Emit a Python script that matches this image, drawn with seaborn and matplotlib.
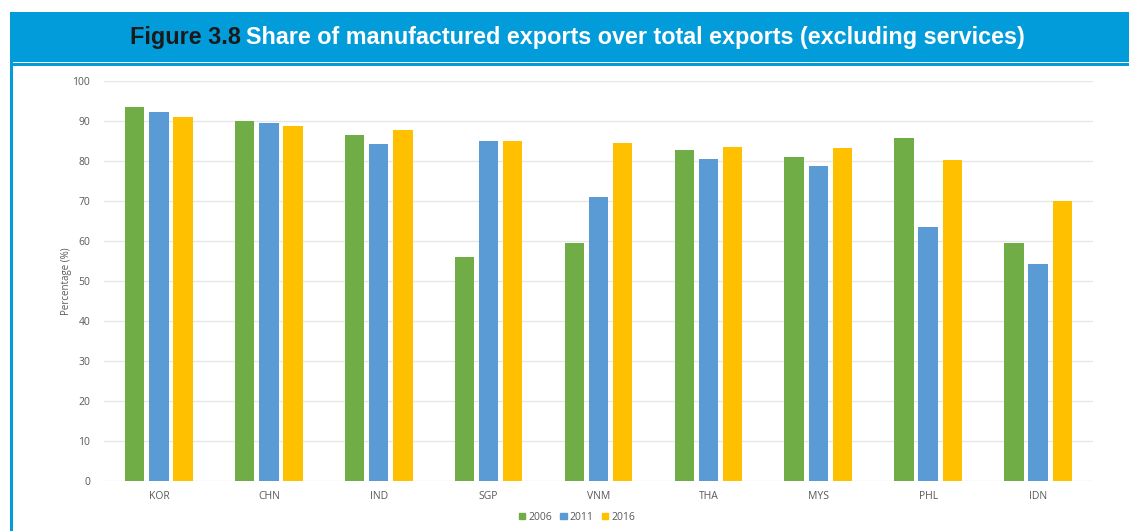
import matplotlib
matplotlib.use("Agg")
import matplotlib.pyplot as plt
import matplotlib.patches as mpatches
import seaborn as sns
import pandas as pd

# Economies and share of manufactured exports (%) by year
countries = ["KOR", "CHN", "IND", "SGP", "VNM", "THA", "MYS", "PHL", "IDN"]
years = ["2006", "2011", "2016"]
share_2006 = [93.4, 90.0, 86.5, 55.9, 59.4, 82.8, 80.9, 85.8, 59.5]
share_2011 = [92.3, 89.6, 84.2, 85.0, 70.9, 80.5, 78.8, 63.6, 54.3]
share_2016 = [91.0, 88.8, 87.7, 84.9, 84.4, 83.6, 83.3, 80.3, 70.0]
yticks = [0, 10, 20, 30, 40, 50, 60, 70, 80, 90, 100]

colors = {"2006": "#70AD47", "2011": "#5B9BD5", "2016": "#FFC000"}
band_blue = "#039CDB"
tick_grey = "#595959"

df = pd.DataFrame({
    "country": countries * 3,
    "year": [y for y, vals in zip(years, [share_2006, share_2011, share_2016]) for _ in vals],
    "share": share_2006 + share_2011 + share_2016,
})

sns.set_theme(style="white")
plt.rcParams["font.family"] = ["Open Sans", "DejaVu Sans"]

fig = plt.figure(figsize=(11.29, 5.31), dpi=100)
fig.patch.set_facecolor("white")

# Header band and frame
W, H = 1129, 531
def fx(px):
    return px / W
def fy(py):
    return 1 - py / H

fig.patches.append(mpatches.Rectangle((fx(10), fy(62)), 1 - fx(10), (62 - 12) / H,
                                      transform=fig.transFigure, facecolor=band_blue,
                                      edgecolor="none", zorder=0))
fig.patches.append(mpatches.Rectangle((fx(10), fy(66)), 1 - fx(10), 3 / H,
                                      transform=fig.transFigure, facecolor=band_blue,
                                      edgecolor="none", zorder=0))
fig.patches.append(mpatches.Rectangle((fx(10), 0), 3 / W, fy(62),
                                      transform=fig.transFigure, facecolor=band_blue,
                                      edgecolor="none", zorder=0))

ax = fig.add_axes([fx(104), fy(481), fx(1093) - fx(104), (481 - 81) / H])
sns.barplot(data=df, x="country", y="share", hue="year", hue_order=years,
            palette=colors, width=0.66, gap=0.2, ax=ax, legend=False,
            saturation=1, edgecolor="none")

ax.set_ylim(0, 100)
ax.set_xlim(-0.5, len(countries) - 0.5)
ax.set_yticks(yticks)
ax.yaxis.grid(True, color="#E6E6E6", linewidth=1)
ax.set_axisbelow(True)
for s in ax.spines.values():
    s.set_visible(False)
ax.tick_params(axis="both", length=0, labelsize=7.5, labelcolor=tick_grey)
ax.tick_params(axis="x", pad=7)
ax.tick_params(axis="y", pad=10)
ax.set_xlabel("")
ax.set_ylabel("Percentage (%)", fontsize=7, color=tick_grey, labelpad=0)

handles = [mpatches.Patch(color=colors[y], label=y) for y in years]
fig.legend(handles=handles, loc="center", bbox_to_anchor=(fx(577), fy(517)), ncol=3,
           frameon=False, fontsize=7.5, handlelength=0.6, handleheight=0.6,
           handletextpad=0.3, columnspacing=0.8, labelcolor=tick_grey)

# Title: dark figure number followed by white caption
title_font = ["Liberation Sans", "DejaVu Sans"]
t1 = fig.text(fx(130), fy(37), "Figure 3.8", fontsize=16.8, fontweight="bold",
              color="#1A1A1A", va="center", ha="left", family=title_font)
fig.canvas.draw()
bb = t1.get_window_extent()
fig.text((bb.x1 + 5) / W, fy(37), "Share of manufactured exports over total exports (excluding services)",
         fontsize=16.8, fontweight="bold", color="white", va="center", ha="left",
         family=title_font)

fig.savefig("out.png", dpi=100, facecolor="white")
